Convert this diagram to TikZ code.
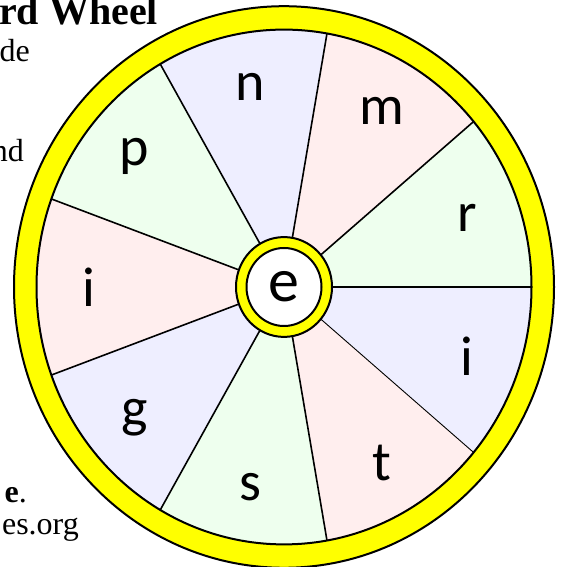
\documentclass[tikz,border=0pt]{standalone}
\usepackage{fontspec}
\setmainfont{Liberation Serif}
\newfontfamily\wheelfont{Carlito}
\definecolor{lav}{HTML}{EEEEFF}
\definecolor{pnk}{HTML}{FFEEEE}
\definecolor{grn}{HTML}{EEFFEE}
\definecolor{rimyellow}{HTML}{FFFF00}
\begin{document}
\begin{tikzpicture}[x=1pt,y=1pt,
  bodytext/.style={inner sep=0pt, anchor=base east, font=\fontsize{32}{32}\selectfont},
  letter/.style={inner sep=0pt, font=\wheelfont\fontsize{56}{56}\selectfont},
  hubletter/.style={inner sep=0pt, font=\wheelfont\fontsize{62}{62}\selectfont},
  spoke/.style={line width=1.6pt},
  thinspoke/.style={line width=0.9pt},
  outline/.style={line width=2pt}]
\useasboundingbox (0,0) rectangle (568,567);
\node[inner sep=0pt, anchor=base west, font=\bfseries\fontsize{40}{40}\selectfont] (title) at (-1,542) {rd Wheel};
\node[bodytext] (t1) at (30,505) {de};
\node[bodytext] (t2) at (24,405) {nd};
\node[bodytext] (t3) at (27,64) {\textbf{e}.};
\node[bodytext] (t4) at (79,32) {es.org};
\begin{scope}[shift={(284,280)}, yscale=1.04]
  \draw[outline, fill=rimyellow] (0,0) circle (270);
  \foreach \a/\c in {0/grn, 40/pnk, 80/lav, 120/grn, 160/pnk, 200/lav, 240/grn, 280/pnk, 320/lav}
    \fill[\c] (0,0) -- (\a:247.5) arc[start angle=\a, delta angle=40, radius=247.5] -- cycle;
  \foreach \a in {0,40,...,280}
    \draw[spoke] (0,0) -- (\a:247.5);
  \draw[thinspoke] (0,0) -- (320:247.5);
  \draw[outline] (0,0) circle (247.5);
  \draw[outline, fill=rimyellow] (0,0) circle (48);
  \draw[outline, fill=white] (0,0) circle (37.5);
  \node[hubletter] (hub) at (0,0) {e};
  \node[letter] (l1) at (100:195) {n};
  \node[letter] (l2) at (60:195) {m};
  \node[letter] (l3) at (20:195) {r};
  \node[letter] (l4) at (340:195) {i};
  \node[letter] (l5) at (300:195) {t};
  \node[letter] (l6) at (260:195) {s};
  \node[letter] (l7) at (220:195) {g};
  \node[letter] (l8) at (180:195) {i};
  \node[letter] (l9) at (140:195) {p};
\end{scope}
\end{tikzpicture}
\end{document}
